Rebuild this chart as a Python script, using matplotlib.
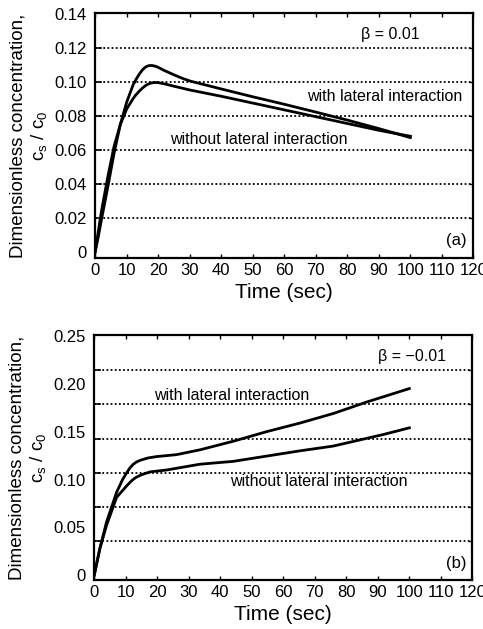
import numpy as np
import matplotlib
matplotlib.use("Agg")
import matplotlib.pyplot as plt

plt.rcParams["font.family"] = ["Liberation Sans", "DejaVu Sans"]
plt.rcParams["mathtext.default"] = "regular"

# (a) beta = 0.01
t_a = [0, 1, 2, 4, 6, 8, 10, 12, 13, 14, 15, 16, 17, 18, 19, 20, 22, 25, 28,
       30, 40, 50, 60, 70, 80, 90, 100]
with_a = [0, 0.009, 0.019, 0.038, 0.058, 0.075, 0.088, 0.098, 0.1015, 0.1045, 0.107,
          0.1087, 0.1095, 0.1096, 0.1092, 0.1085, 0.1066, 0.1041, 0.1018,
          0.1005, 0.0958, 0.0912, 0.0868, 0.0822, 0.0775, 0.0725, 0.0672]
without_a = [0, 0.012, 0.024, 0.044, 0.062, 0.075, 0.084, 0.090, 0.0925, 0.0945, 0.0963,
             0.0978, 0.0988, 0.0994, 0.0996, 0.0995, 0.0988, 0.0974, 0.0961,
             0.0952, 0.0915, 0.0875, 0.0835, 0.0795, 0.0755, 0.0715, 0.068]

# (b) beta = -0.01
t_b = [0, 1.8, 3.9, 7.1, 9, 10.3, 11.3, 12.4, 13.5, 14.5, 17, 19.8, 26.1, 33.5,
       44.1, 54.7, 65.3, 75.9, 86.5, 100]
with_b = [0, 0.028, 0.0555, 0.0866, 0.1, 0.107, 0.112, 0.116, 0.1185, 0.120, 0.1225,
          0.124, 0.126, 0.131, 0.140, 0.150, 0.159, 0.169, 0.181, 0.195]
t_b2 = [0, 1.8, 3.9, 7.1, 9, 10.3, 11.5, 12.5, 13.4, 15, 17.7, 23, 33.5, 44.1,
        54.7, 65.3, 75.9, 91.7, 100]
without_b = [0, 0.028, 0.052, 0.0814, 0.0885, 0.0934, 0.0975, 0.1005, 0.1025, 0.105,
             0.108, 0.110, 0.116, 0.119, 0.1245, 0.130, 0.135, 0.147, 0.154]

fig = plt.figure(figsize=(4.83, 6.29), dpi=100)
ax_a = fig.add_axes([0.197, 0.590, 0.783, 0.3895])
ax_b = fig.add_axes([0.195, 0.078, 0.783, 0.3895])

dot = (0, (1.0, 1.3))


def style(ax, grid_y, label_y, ylim, labels):
    ax.set_xlim(0, 120)
    ax.set_ylim(*ylim)
    ax.set_xticks(np.arange(0, 121, 10))
    ax.set_yticks(label_y)
    ax.set_yticklabels(labels)
    ax.tick_params(axis="y", length=0, pad=6, labelsize=12)
    ax.tick_params(axis="x", direction="in", length=3, width=1, top=True,
                   pad=4, labelsize=12)
    for g in grid_y:
        ax.axhline(g, color="black", lw=1.3, ls=dot, zorder=1)
        ax.plot([0, 1.8], [g, g], color="black", lw=1.2, zorder=2)
        ax.plot([118.8, 120], [g, g], color="black", lw=1.0, zorder=2)
    for s in ax.spines.values():
        s.set_linewidth(1.6)
    ax.set_xlabel("Time (sec)", fontsize=15, labelpad=3)
    ax.set_ylabel("Dimensionless concentration,\n$c_s$ / $c_0$",
                  fontsize=13.5, linespacing=1.15, labelpad=4)


style(ax_a, [0.02, 0.04, 0.06, 0.08, 0.10, 0.12],
      [0, 0.02, 0.04, 0.06, 0.08, 0.10, 0.12, 0.14], (-0.0035, 0.1405),
      ["0", "0.02", "0.04", "0.06", "0.08", "0.10", "0.12", "0.14"])
ax_a.plot(t_a, with_a, color="black", lw=2.0, zorder=3)
ax_a.plot(t_a, without_a, color="black", lw=2.0, zorder=3)
ax_a.text(93.5, 0.128, "β = 0.01", ha="center", va="center", fontsize=11.5)
ax_a.text(92, 0.0912, "with lateral interaction", ha="center", va="center", fontsize=11.5)
ax_a.text(52, 0.066, "without lateral interaction", ha="center", va="center", fontsize=11.5)
ax_a.text(114.7, 0.0066, "(a)", ha="center", va="center", fontsize=12)

style(ax_b, [0.25 * k / 7 for k in range(1, 7)],
      [0, 0.05, 0.10, 0.15, 0.20, 0.25], (-0.0048, 0.251),
      ["0", "0.05", "0.10", "0.15", "0.20", "0.25"])
ax_b.plot(t_b, with_b, color="black", lw=2.0, zorder=3)
ax_b.plot(t_b2, without_b, color="black", lw=2.0, zorder=3)
ax_b.text(100.7, 0.228, "β = −0.01", ha="center", va="center", fontsize=11.5)
ax_b.text(43.6, 0.188, "with lateral interaction", ha="center", va="center", fontsize=11.5)
ax_b.text(71.4, 0.098, "without lateral interaction", ha="center", va="center", fontsize=11.5)
ax_b.text(115, 0.0125, "(b)", ha="center", va="center", fontsize=12)

fig.savefig("out.png", dpi=100)
